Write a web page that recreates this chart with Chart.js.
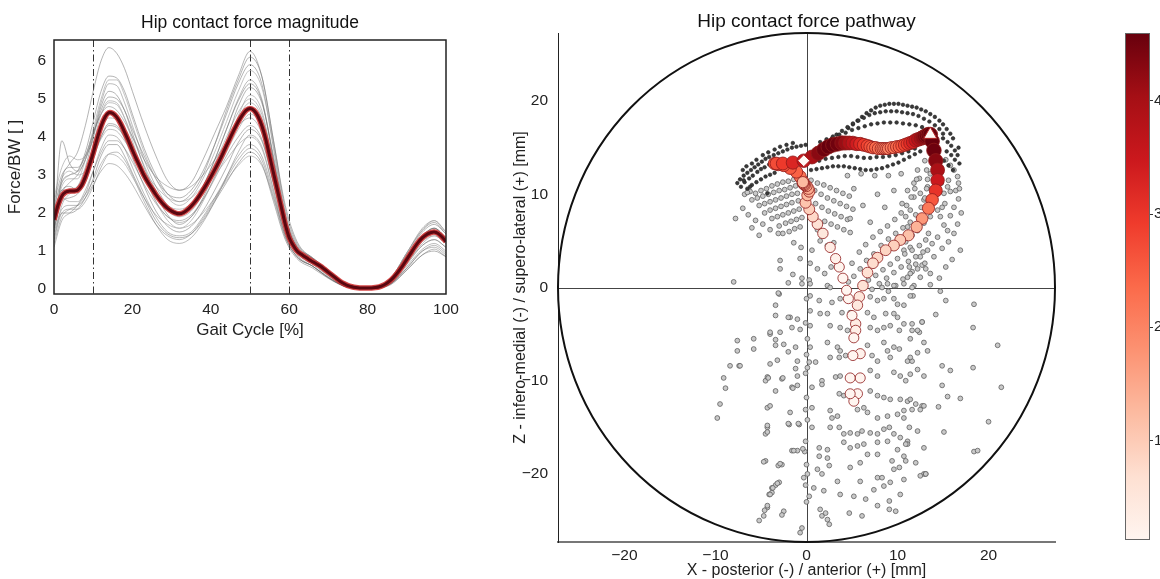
<!DOCTYPE html>
<html lang="en">
<head>
<meta charset="utf-8">
<title>Hip contact force</title>
<script src="https://cdn.jsdelivr.net/npm/chart.js@4.4.1/dist/chart.umd.min.js"></script>
<style>
html, body { margin: 0; padding: 0; background: #fff; overflow: hidden; }
.panel { position: absolute; top: 0; }
</style>
</head>
<body>
<div class="panel" style="left:0;width:470px;height:360px"><canvas id="forceChart"></canvas></div>
<div class="panel" style="left:470px;width:620px;height:579px"><canvas id="pathChart"></canvas></div>
<div class="panel" style="left:1090px;width:90px;height:579px"><canvas id="colorBar"></canvas></div>
<script>
// ---- data ----
const gaitTicks = [0, 20, 40, 60, 80, 100];
const forceTicks = [0, 1, 2, 3, 4, 5, 6];
const mmTicks = [-20, -10, 0, 10, 20];
const barTicks = [1, 2, 3, 4];
const colorRange = [0.12, 4.6];
const gaitEvents = [10, 50, 60];
const headRadius = 27.3;

// mean force/BW at every 1% of the gait cycle
const meanForce = [
  1.82, 2.2, 2.45, 2.55, 2.58, 2.58, 2.6, 2.72, 2.95, 3.25, 3.58,
  3.95, 4.28, 4.52, 4.64, 4.62, 4.52, 4.35, 4.13, 3.9, 3.65,
  3.42, 3.2, 2.98, 2.8, 2.64, 2.48, 2.34, 2.22, 2.12, 2.05,
  2.0, 1.98, 2.01, 2.08, 2.18, 2.3, 2.44, 2.6, 2.77, 2.95,
  3.14, 3.34, 3.55, 3.77, 3.99, 4.2, 4.4, 4.57, 4.7, 4.75,
  4.7, 4.55, 4.3, 3.95, 3.5, 3.05, 2.6, 2.15, 1.7, 1.35,
  1.15, 1.0, 0.92, 0.85, 0.78, 0.72, 0.66, 0.6, 0.52, 0.44,
  0.36, 0.28, 0.2, 0.14, 0.09, 0.06, 0.04, 0.03, 0.03, 0.03,
  0.03, 0.04, 0.06, 0.1, 0.16, 0.24, 0.35, 0.48, 0.62, 0.78,
  0.94, 1.1, 1.24, 1.35, 1.43, 1.48, 1.5, 1.46, 1.37, 1.25
];

// individual trials, sampled at trialPct
const trialPct = [0, 2, 4, 6, 8, 10, 12, 14, 16, 18, 20, 23, 26, 29, 32, 35, 38, 41, 44, 47, 50, 53, 56, 59, 62, 66, 70, 74, 78, 82, 86, 90, 94, 97, 100];
const trialForce = [
  [1.6, 2.9, 3.3, 3.6, 4.3, 5.2, 6.0, 6.35, 6.2, 5.8, 5.2, 4.3, 3.5, 2.85, 2.6, 2.8, 3.4, 4.1, 4.8, 5.6, 6.25, 5.6, 3.9, 2.2, 1.25, 0.8, 0.45, 0.15, 0.03, 0.05, 0.3, 0.9, 1.5, 1.7, 1.45],
  [1.9, 2.7, 2.9, 2.9, 3.4, 4.2, 5.0, 5.5, 5.5, 5.1, 4.5, 3.6, 2.9, 2.4, 2.2, 2.4, 2.9, 3.6, 4.4, 5.2, 5.75, 5.3, 3.8, 2.0, 1.15, 0.8, 0.5, 0.18, 0.04, 0.05, 0.3, 0.95, 1.55, 1.8, 1.5],
  [1.5, 2.5, 2.8, 3.0, 3.4, 4.1, 4.9, 5.4, 5.35, 4.9, 4.3, 3.4, 2.7, 2.2, 2.0, 2.2, 2.7, 3.4, 4.2, 5.0, 5.5, 5.0, 3.4, 1.8, 1.1, 0.75, 0.45, 0.15, 0.02, 0.04, 0.25, 0.85, 1.4, 1.6, 1.35],
  [2.0, 2.6, 2.6, 2.7, 3.2, 4.0, 4.8, 5.2, 5.1, 4.7, 4.1, 3.2, 2.5, 1.95, 1.7, 1.9, 2.4, 3.1, 3.9, 4.8, 5.3, 4.9, 3.5, 1.9, 1.05, 0.7, 0.4, 0.12, 0.02, 0.03, 0.2, 0.75, 1.3, 1.5, 1.25],
  [1.3, 2.2, 2.5, 2.6, 3.0, 3.8, 4.6, 4.95, 4.9, 4.5, 3.9, 3.0, 2.3, 1.8, 1.6, 1.8, 2.3, 2.95, 3.7, 4.55, 5.1, 4.7, 3.2, 1.7, 1.0, 0.68, 0.38, 0.1, 0.02, 0.03, 0.2, 0.7, 1.25, 1.4, 1.2],
  [2.3, 3.0, 3.2, 3.2, 3.5, 4.1, 4.6, 4.8, 4.7, 4.4, 4.0, 3.4, 2.95, 2.7, 2.6, 2.7, 3.0, 3.4, 3.85, 4.3, 4.5, 4.1, 2.9, 1.7, 1.1, 0.8, 0.5, 0.18, 0.04, 0.05, 0.28, 0.85, 1.4, 1.6, 1.35],
  [1.6, 2.3, 2.4, 2.5, 2.8, 3.4, 4.0, 4.35, 4.3, 3.95, 3.45, 2.7, 2.05, 1.65, 1.5, 1.65, 2.05, 2.6, 3.2, 3.85, 4.2, 3.9, 2.8, 1.6, 0.95, 0.65, 0.35, 0.1, 0.02, 0.03, 0.18, 0.65, 1.15, 1.3, 1.1],
  [2.1, 2.9, 3.1, 3.0, 3.1, 3.5, 3.95, 4.2, 4.15, 3.9, 3.6, 3.1, 2.7, 2.4, 2.3, 2.4, 2.7, 3.0, 3.4, 3.8, 4.0, 3.7, 2.6, 1.5, 1.0, 0.75, 0.45, 0.15, 0.03, 0.04, 0.25, 0.8, 1.3, 1.5, 1.3],
  [1.2, 1.9, 2.1, 2.2, 2.5, 3.1, 3.7, 4.05, 4.0, 3.7, 3.2, 2.5, 1.9, 1.5, 1.4, 1.5, 1.9, 2.4, 2.95, 3.5, 3.8, 3.5, 2.5, 1.4, 0.85, 0.6, 0.3, 0.08, 0.01, 0.02, 0.15, 0.55, 1.0, 1.1, 0.9],
  [1.4, 2.0, 2.0, 2.1, 2.4, 2.9, 3.5, 3.8, 3.8, 3.5, 3.05, 2.4, 1.8, 1.45, 1.35, 1.45, 1.8, 2.3, 2.8, 3.3, 3.6, 3.3, 2.3, 1.3, 0.8, 0.55, 0.28, 0.07, 0.01, 0.02, 0.12, 0.5, 0.9, 1.0, 0.85],
  [1.8, 2.4, 2.3, 2.3, 2.5, 2.85, 3.3, 3.55, 3.5, 3.3, 2.95, 2.4, 1.95, 1.7, 1.6, 1.7, 2.0, 2.4, 2.85, 3.25, 3.5, 3.25, 2.4, 1.45, 0.95, 0.7, 0.4, 0.12, 0.02, 0.03, 0.2, 0.7, 1.15, 1.3, 1.1],
  [1.5, 2.1, 2.2, 2.2, 2.4, 2.75, 3.1, 3.3, 3.25, 3.05, 2.75, 2.2, 1.7, 1.4, 1.3, 1.45, 1.85, 2.35, 2.9, 3.4, 3.7, 3.4, 2.4, 1.35, 0.85, 0.6, 0.32, 0.08, 0.01, 0.02, 0.15, 0.6, 1.05, 1.2, 1.0],
  [1.7, 3.9, 3.3, 3.1, 3.4, 4.0, 4.7, 5.05, 5.0, 4.7, 4.2, 3.5, 2.9, 2.5, 2.4, 2.6, 3.1, 3.8, 4.6, 5.4, 5.9, 5.4, 3.7, 1.95, 1.15, 0.82, 0.5, 0.17, 0.03, 0.05, 0.3, 0.95, 1.55, 1.75, 1.45],
  [2.4, 3.2, 3.5, 3.4, 3.5, 3.9, 4.35, 4.6, 4.55, 4.25, 3.8, 3.05, 2.45, 2.05, 1.9, 2.05, 2.5, 3.1, 3.8, 4.5, 4.9, 4.5, 3.1, 1.75, 1.05, 0.72, 0.42, 0.13, 0.02, 0.03, 0.22, 0.75, 1.3, 1.45, 1.2],
  [1.1, 1.8, 2.0, 2.2, 2.6, 3.1, 3.6, 3.9, 3.9, 3.7, 3.35, 2.75, 2.25, 1.9, 1.8, 1.95, 2.35, 2.9, 3.5, 4.0, 4.3, 3.95, 2.75, 1.5, 0.9, 0.6, 0.3, 0.08, 0.01, 0.02, 0.14, 0.5, 0.9, 1.05, 0.85],
  [1.9, 2.6, 2.7, 2.6, 2.9, 3.5, 4.0, 4.3, 4.25, 4.0, 3.6, 3.0, 2.5, 2.15, 2.0, 2.2, 2.7, 3.4, 4.2, 4.95, 5.4, 4.95, 3.4, 1.85, 1.1, 0.75, 0.45, 0.15, 0.03, 0.04, 0.25, 0.85, 1.4, 1.6, 1.35],
  [2.2, 2.8, 3.0, 3.1, 3.5, 4.1, 4.6, 4.9, 4.85, 4.5, 4.0, 3.25, 2.6, 2.2, 2.1, 2.25, 2.7, 3.3, 4.0, 4.65, 5.0, 4.6, 3.3, 1.85, 1.1, 0.75, 0.45, 0.14, 0.03, 0.04, 0.25, 0.85, 1.4, 1.55, 1.3],
  [1.3, 2.0, 2.1, 2.1, 2.3, 2.7, 3.2, 3.55, 3.6, 3.4, 3.0, 2.3, 1.7, 1.3, 1.2, 1.35, 1.75, 2.3, 2.95, 3.6, 4.05, 3.75, 2.6, 1.4, 0.85, 0.6, 0.3, 0.08, 0.01, 0.02, 0.15, 0.55, 1.0, 1.15, 0.95],
  [1.8, 2.8, 3.0, 3.1, 3.6, 4.4, 5.2, 5.6, 5.55, 5.2, 4.6, 3.7, 3.0, 2.5, 2.3, 2.5, 3.0, 3.8, 4.7, 5.5, 6.1, 5.6, 3.9, 2.1, 1.2, 0.82, 0.5, 0.16, 0.03, 0.05, 0.3, 0.95, 1.6, 1.8, 1.5],
  [1.6, 2.4, 2.6, 2.7, 3.0, 3.6, 4.2, 4.5, 4.45, 4.15, 3.7, 2.95, 2.3, 1.9, 1.75, 1.9, 2.35, 2.95, 3.6, 4.2, 4.6, 4.25, 3.0, 1.7, 1.0, 0.7, 0.4, 0.12, 0.02, 0.03, 0.2, 0.7, 1.2, 1.4, 1.2]
];

// mean contact point at every 1% of the gait cycle [mm]
const pathX = [
  -0.4, -0.7, -1.1, -1.8, -2.5, -3.1, -3.5, -3.3, -2.6, -1.5, -0.3,
  0.6, 1.3, 1.9, 2.4, 2.9, 3.4, 3.9, 4.3, 4.7, 5.1,
  5.5, 5.9, 6.3, 6.7, 7.0, 7.3, 7.6, 7.9, 8.2, 8.4,
  8.6, 8.8, 9.0, 9.3, 9.6, 9.9, 10.2, 10.5, 10.8, 11.1,
  11.4, 11.7, 12.0, 12.3, 12.6, 12.8, 13.0, 13.2, 13.4, 13.6,
  13.8, 14.0, 14.2, 14.4, 14.4, 14.2, 13.8, 13.4, 12.7, 12.1,
  11.2, 10.3, 9.6, 8.7, 7.8, 7.3, 6.7, 6.2, 5.8, 5.6,
  5.4, 5.4, 5.9, 5.9, 5.6, 5.2, 4.8, 4.8, 5.1, 5.2,
  5.0, 4.6, 4.4, 4.0, 3.6, 3.2, 2.6, 1.8, 1.2, 0.7,
  0.3, -0.1, 0.1, 0.3, 0.2, 0.0, -0.2, -0.3, -0.4, -0.4
];
const pathZ = [
  11.4, 11.9, 12.4, 12.8, 13.1, 13.2, 13.3, 13.3, 13.3, 13.4, 13.6,
  14.0, 14.4, 14.8, 15.1, 15.3, 15.4, 15.5, 15.5, 15.5, 15.5,
  15.4, 15.4, 15.3, 15.2, 15.1, 15.0, 15.0, 14.9, 14.9, 14.9,
  14.9, 14.9, 14.9, 15.0, 15.0, 15.1, 15.1, 15.2, 15.3, 15.4,
  15.5, 15.6, 15.8, 15.9, 16.0, 16.1, 16.2, 16.3, 16.4, 16.4,
  15.7, 14.7, 13.6, 12.6, 11.5, 10.4, 9.4, 8.5, 7.4, 6.5,
  5.6, 5.1, 4.5, 4.0, 3.2, 2.6, 1.6, 0.2, -1.0, -1.9,
  -3.9, -4.6, -7.1, -9.7, -11.4, -12.2, -11.4, -9.7, -7.3, -5.4,
  -3.0, -1.2, -0.3, 1.0, 2.2, 3.1, 4.3, 5.8, 6.8, 7.6,
  8.4, 9.1, 9.9, 10.3, 10.6, 10.9, 11.0, 11.1, 11.2, 11.3
];
const eventIdx = [10, 50];

// contact points of the single trials, high-load traces
const darkPts = [
  [4.6, 17.1], [5.1, 17.5], [5.6, 17.9], [6.1, 18.3], [6.6, 18.7], [7.1, 19.0], [7.6, 19.3], [8.1, 19.5], [8.6, 19.6], [9.1, 19.7],
  [9.6, 19.7], [10.1, 19.7], [10.6, 19.6], [11.1, 19.5], [11.6, 19.4], [12.1, 19.3], [12.6, 19.1], [13.1, 18.9], [13.6, 18.6], [14.1, 18.3],
  [14.6, 17.9], [15.0, 17.5], [15.4, 17.0], [15.8, 16.5], [16.1, 16.0],
  [2.8, 16.0], [3.3, 16.4], [3.9, 16.8], [4.5, 17.2], [5.1, 17.6], [5.7, 17.9], [6.3, 18.2], [6.9, 18.5], [7.5, 18.7], [8.1, 18.8],
  [8.7, 18.9], [9.3, 18.9], [9.9, 18.9], [10.5, 18.8], [11.1, 18.7], [11.7, 18.6], [12.3, 18.4], [12.9, 18.1], [13.5, 17.8], [14.1, 17.4],
  [14.6, 17.0], [15.0, 16.5],
  [1.5, 15.6], [2.2, 15.9], [2.9, 16.2], [3.6, 16.4], [4.3, 16.6], [5.0, 16.9], [5.7, 17.1], [6.4, 17.3], [7.1, 17.5], [7.8, 17.6],
  [8.5, 17.7], [9.2, 17.7], [9.9, 17.7], [10.6, 17.6], [11.3, 17.5], [12.0, 17.4], [12.7, 17.2], [13.4, 16.9],
  [-7.6, 11.2], [-7.3, 11.6], [-6.9, 12.0], [-6.5, 12.3], [-6.1, 12.6], [-5.7, 12.9], [-5.3, 13.2], [-4.9, 13.5], [-4.5, 13.8], [-4.1, 14.0],
  [-3.6, 14.2], [-3.1, 14.4], [-2.6, 14.6], [-2.1, 14.8], [-1.6, 15.0], [-1.1, 15.1], [-0.6, 15.2], [-0.1, 15.3],
  [-7.2, 10.8], [-6.8, 11.3], [-6.3, 11.7], [-5.9, 12.0], [-5.4, 12.4], [-5.0, 12.7], [-4.6, 12.9], [-4.1, 13.2], [-3.7, 13.5],
  [-6.5, 10.6], [-6.0, 11.0], [-5.5, 11.3], [-5.0, 11.6], [-4.5, 11.9], [-4.0, 12.1], [-3.5, 12.3],
  [-7.0, 12.6], [-6.6, 13.0], [-6.0, 13.3], [-5.5, 13.7], [-4.8, 14.2], [-4.2, 14.5], [-3.5, 14.8], [-2.9, 15.1], [-2.2, 15.3], [-1.5, 15.5],
  [0.5, 12.6], [1.1, 12.7], [1.7, 12.8], [2.3, 12.9], [2.9, 13.0], [3.5, 13.0], [4.1, 13.0], [4.7, 12.9], [5.3, 12.8], [5.9, 12.7],
  [6.5, 12.6], [7.1, 12.6], [7.7, 12.7], [8.3, 12.8], [8.9, 13.0], [9.5, 13.2], [10.1, 13.4], [10.7, 13.7], [11.3, 14.0], [11.9, 14.3], [12.5, 14.6],
  [1.4, 13.6], [2.1, 13.8], [2.8, 13.9], [3.5, 14.0], [4.2, 14.1], [4.9, 14.1], [5.6, 14.0], [6.3, 13.9], [7.0, 13.9], [7.7, 14.0],
  [8.4, 14.0], [9.1, 14.1], [9.8, 14.2], [10.5, 14.4], [11.2, 14.6], [11.9, 14.9],
  [15.0, 16.0], [15.5, 15.6], [15.9, 15.2], [16.3, 14.7], [16.6, 14.2], [15.4, 14.6], [15.9, 14.2], [16.3, 13.7], [15.1, 13.6], [15.6, 13.1],
  [16.1, 12.6], [16.8, 13.3], [16.7, 15.0], [-6.9, 11.5], [-6.2, 10.8], [-4.3, 10.1]
];

// contact points of the single trials, remaining samples
const grayPts = [
  // lobe under the loading response
  [-6.8, 10.0], [-6.2, 10.3], [-5.6, 10.1], [-5.0, 10.4], [-4.4, 10.6], [-3.8, 10.9], [-3.2, 11.1], [-2.6, 11.3], [-2.0, 11.4], [-1.4, 11.6],
  [-6.0, 9.4], [-5.4, 9.6], [-4.8, 9.8], [-4.2, 10.0], [-3.6, 10.2], [-3.0, 10.4], [-2.4, 10.5], [-1.8, 10.7], [-1.2, 10.9], [-0.6, 11.2],
  [-5.2, 8.8], [-4.6, 9.0], [-4.0, 9.2], [-3.4, 9.4], [-2.8, 9.6], [-2.2, 9.8], [-1.6, 10.0], [-1.0, 10.1],
  [-4.6, 8.0], [-4.0, 8.3], [-3.4, 8.5], [-2.8, 8.7], [-2.2, 8.9], [-1.6, 9.1], [-0.9, 9.3],
  [-3.8, 7.4], [-3.2, 7.6], [-2.6, 7.8], [-2.0, 8.0], [-1.4, 8.2], [-0.8, 8.4],
  [-3.0, 6.6], [-2.3, 6.9], [-1.7, 7.1], [-1.1, 7.3], [-0.5, 7.5], [-2.6, 5.8], [-1.9, 6.0], [-1.3, 6.3], [-0.7, 6.5],
  [-7.0, 8.5], [-6.4, 7.8], [-5.6, 7.2], [-4.8, 6.8], [-4.0, 6.2], [-5.2, 5.6], [-6.0, 6.4],
  [-7.8, 7.4], [-6.5, 10.2], [-3.1, 5.8], [-2.9, 2.9], [-2.9, 2.0], [-0.7, 3.1], [-0.6, 4.3], [-1.4, 4.8], [-8.0, 0.6],
  [0.5, 11.5], [1.2, 11.2], [1.9, 11.0], [2.6, 10.7], [3.3, 10.4], [4.0, 10.1], [4.7, 9.8], [0.9, 10.4], [1.6, 10.0], [2.3, 9.6],
  [3.0, 9.3], [3.7, 9.0], [4.4, 8.7], [5.1, 8.4], [1.0, 9.0], [1.7, 8.6], [2.4, 8.2], [3.1, 7.9], [3.8, 7.6], [4.5, 7.3],
  [2.0, 7.1], [2.7, 6.8], [3.4, 6.5], [4.1, 6.2], [4.8, 5.9], [1.2, 6.2], [1.5, 5.0], [2.3, 4.5], [3.0, 4.8], [0.6, 4.0],
  [0.4, 2.6], [1.2, 2.0], [2.0, 1.5], [2.7, 2.2], [-1.5, 1.4], [-0.5, 1.0], [0.3, 0.8], [-2.0, 0.5],
  // inside the loop
  [4.5, 12.0], [6.0, 12.2], [7.5, 12.0], [9.0, 12.0], [10.4, 12.2], [5.2, 10.6], [7.8, 10.0], [9.6, 10.4], [6.2, 8.8], [8.6, 8.6],
  [4.8, 7.4], [7.0, 7.0],
  // unloading branch
  [15.3, 13.7], [15.8, 13.1], [16.2, 12.6], [16.6, 11.9], [16.7, 11.2], [16.4, 10.4], [16.7, 9.5], [16.2, 8.6], [15.8, 7.7], [16.2, 5.8],
  [15.6, 4.9], [14.9, 4.2], [14.0, 3.3], [13.6, 1.5], [12.5, 1.1], [11.8, 0.2], [13.1, 2.0], [14.7, 7.6], [15.1, 6.7], [15.5, 6.1],
  [14.4, 5.4], [13.8, 4.7], [13.3, 4.0], [12.5, 3.3], [12.0, 2.5], [11.3, 2.2], [11.1, 1.1], [11.6, 1.7], [12.7, 2.4], [15.1, 10.1],
  [15.5, 10.8], [15.6, 11.5], [14.9, 8.6], [14.4, 8.3], [13.6, 7.6], [12.9, 6.9], [12.2, 6.1], [11.6, 5.6], [10.9, 4.9], [10.7, 4.0],
  [11.4, 4.3], [12.4, 4.5], [13.1, 5.1], [13.4, 5.8], [12.5, 10.1], [12.9, 9.4], [13.3, 10.8], [13.6, 12.2], [11.8, 9.7], [11.4, 8.3],
  [10.9, 7.6], [11.1, 6.5], [11.8, 11.2], [12.4, 11.7], [11.1, 10.4], [10.5, 9.0],
  [6.8, 0.8], [7.6, 1.3], [8.4, 1.9], [9.2, 2.5], [10.0, 3.1], [10.8, 3.6], [11.6, 4.0], [7.2, -0.2], [8.0, 0.4], [8.8, 1.0],
  [9.6, 1.6], [10.4, 2.2], [11.2, 2.8], [12.0, 3.3], [12.8, 3.8], [9.0, -0.4], [9.8, 0.2], [10.6, 0.9], [11.4, 1.5], [12.2, 2.0],
  [13.0, 2.6], [5.2, 1.2], [5.9, 2.0], [6.6, 2.9], [7.4, 3.6], [8.2, 4.5], [9.0, 5.2], [9.8, 5.8], [10.6, 6.4], [11.4, 7.0],
  [12.0, 7.8], [12.6, 8.6], [13.0, 9.6], [13.2, 10.6], [13.3, 11.6], [13.2, 12.6], [13.0, 13.6], [4.6, 0.6], [5.0, 2.6], [5.8, 3.8],
  [6.5, 4.6], [7.3, 5.4], [8.1, 6.0], [8.9, 6.6], [9.7, 7.3], [10.4, 8.0], [11.0, 8.8], [11.5, 9.7], [11.9, 10.6], [12.1, 11.6],
  [12.2, 12.6], [15.2, 9.0], [14.8, 11.2], [15.8, 10.3], [16.8, 10.6], [17.0, 8.0], [16.6, 6.8], [16.9, 4.0], [16.0, 3.0], [15.3, 2.2],
  [14.6, 1.0], [13.6, 0.3], [14.7, -0.4],
  // swing phase
  [-0.5, 0.4], [0.4, 0.4], [2.3, 0.2], [2.6, 0.0], [8.3, 0.0], [8.9, 0.4], [9.6, 0.2], [10.7, 0.4], [11.6, 0.0], [11.7, -0.9],
  [-3.0, -0.7], [0.4, -0.9], [1.4, -1.4], [2.8, -1.6], [3.7, -1.2], [7.0, -1.0], [7.8, -1.4], [8.5, -1.2], [9.6, -1.2], [10.0, -1.8],
  [10.7, -1.9], [11.4, -0.9], [-3.4, -3.0], [-1.8, -3.2], [-1.0, -3.4], [0.4, -2.5], [1.5, -2.8], [2.3, -2.8], [3.9, -2.7], [4.8, -2.7],
  [6.7, -2.7], [7.4, -3.2], [8.7, -2.8], [9.6, -2.8], [10.0, -3.2], [10.7, -3.9], [11.6, -3.9], [12.7, -3.7],
  [-4.0, -5.0], [-2.9, -4.8], [-1.6, -4.3], [-0.7, -4.5], [0.4, -4.1], [2.6, -4.1], [3.7, -4.3], [4.5, -4.6], [7.0, -4.3], [7.8, -4.6],
  [8.5, -4.3], [9.2, -4.1], [10.2, -4.6], [11.6, -4.6], [12.4, -4.8],
  [-7.6, -6.8], [-5.8, -6.6], [-3.4, -6.2], [-2.5, -6.1], [-1.2, -6.4], [0.4, -6.4], [2.3, -5.9], [3.4, -6.4], [3.7, -6.8], [6.7, -6.2],
  [8.5, -5.9], [8.9, -6.8], [9.6, -6.4], [10.2, -6.6], [11.4, -5.5], [12.2, -7.0], [12.9, -5.9],
  [-7.4, -8.4], [-4.0, -8.2], [-1.0, -7.9], [0.3, -8.0], [1.0, -8.0], [2.6, -7.5], [3.6, -7.5], [4.3, -7.3], [7.2, -7.3], [7.8, -7.9],
  [9.2, -7.5], [11.1, -7.9], [11.6, -7.9],
  [-4.5, -10.0], [-4.3, -9.6], [-2.7, -9.8], [-1.0, -9.5], [0.1, -8.6], [1.7, -10.0], [3.2, -9.6], [3.7, -9.5], [7.0, -8.9], [7.8, -9.5],
  [9.6, -9.1], [10.3, -9.5], [11.4, -9.3], [12.2, -8.8], [12.9, -9.5],
  [-3.4, -11.1], [-1.6, -10.7], [-1.0, -10.5], [0.6, -10.7], [1.7, -10.4], [3.6, -11.4], [4.1, -11.6], [7.0, -11.1], [7.8, -11.6], [8.5, -11.8],
  [9.2, -12.0], [10.3, -12.0], [11.1, -12.2], [12.0, -12.5], [12.7, -12.7],
  [-4.3, -12.9], [-4.0, -12.7], [-1.8, -13.4], [-0.1, -13.1], [0.6, -12.9], [2.6, -13.2], [2.8, -14.0], [3.4, -13.8], [5.6, -13.1], [6.3, -12.9],
  [6.7, -13.4], [7.8, -14.0], [8.9, -13.8], [10.0, -13.6], [10.7, -14.0], [11.6, -13.1], [12.5, -13.1],
  [-4.3, -15.0], [-4.5, -15.7], [-1.9, -14.7], [-0.8, -14.7], [0.6, -15.0], [2.6, -15.0], [3.6, -15.0], [4.1, -15.7], [4.8, -15.6], [5.6, -15.7],
  [6.1, -15.4], [7.0, -15.6], [7.8, -15.7], [8.5, -15.2], [9.1, -15.0], [9.6, -15.7], [10.3, -16.1], [11.1, -16.5], [12.2, -15.4],
  [-1.6, -17.5], [-1.0, -17.5], [1.4, -17.2], [2.3, -17.4], [4.1, -16.6], [4.8, -17.2], [5.6, -17.0], [6.3, -16.8], [7.8, -16.6], [8.9, -16.5],
  [10.0, -17.4], [11.1, -16.8], [12.9, -17.2],
  [-4.5, -18.6], [-2.7, -19.0], [1.4, -18.1], [2.3, -18.3], [2.5, -19.1], [4.8, -19.3], [5.9, -18.8], [6.7, -17.9], [7.8, -17.9], [9.4, -18.6],
  [10.2, -19.3], [10.7, -18.1], [12.0, -18.8], [12.9, -20.0], [0.1, -20.0], [1.2, -19.5], [1.7, -20.0], [9.6, -19.5], [7.8, -20.4],
  [-4.3, -23.6], [-4.7, -24.5], [-2.5, -24.0], [-3.0, -20.9], [-3.8, -21.5], [-3.8, -22.0], [-0.5, -25.8], [-0.3, -20.4], [0.8, -21.5], [0.3, -22.4],
  [1.5, -23.8], [1.7, -24.5], [2.3, -24.9], [2.5, -25.4], [2.1, -24.2], [1.9, -21.8], [3.4, -20.8], [3.7, -22.2], [4.7, -24.2], [5.2, -22.4],
  [5.9, -20.8], [6.1, -24.5], [6.5, -22.7], [7.4, -21.7], [7.8, -23.4], [8.3, -20.4], [8.5, -21.3], [9.1, -22.9], [9.1, -23.8], [9.8, -24.0],
  [9.2, -20.9], [10.3, -22.2], [10.7, -20.6], [13.1, -20.0],
  [-4.7, -18.7], [-3.1, -19.1], [-3.4, -21.2], [-4.1, -22.2], [-4.6, -23.9], [-5.2, -25.0], [-2.7, -24.4], [-0.7, -26.3], [18.4, -17.6], [12.5, -20.2],
  [0.0, -1.2], [-0.1, -3.8], [0.1, -5.5], [0.0, -7.2], [-0.1, -9.2], [0.0, -11.8], [0.1, -14.2], [-0.1, -16.5], [0.0, -19.0], [-0.1, -21.2],
  [0.0, -23.0], [-0.2, -17.6], [-0.4, -17.3],
  [-3.1, -0.6], [-3.4, -1.9], [-2.0, -3.2], [-4.0, -4.8], [-3.4, -5.6], [-5.8, -5.5], [-7.6, -5.7], [-8.4, -8.4], [-7.3, -8.4], [-9.1, -9.7],
  [-8.9, -10.8], [-9.5, -12.5], [-9.8, -14.0], [-4.2, -9.7], [-3.2, -7.8], [-2.6, -9.7], [-1.5, -10.8], [-1.2, -8.7], [-2.0, -6.9], [-0.9, -14.6],
  [-2.0, -14.6], [-4.3, -14.8], [-4.3, -15.5], [-1.4, -17.5], [-2.9, -18.9], [-3.2, -21.0], [-3.7, -21.5], [-4.0, -22.2], [-4.3, -23.4],
  [18.4, -1.8], [15.3, -1.4], [14.2, -2.9], [18.3, -4.3], [21.0, -6.2], [12.7, -3.7], [12.2, -4.6], [13.3, -6.8], [14.9, -8.4], [15.8, -8.9],
  [18.3, -8.6], [14.9, -10.5], [21.4, -10.7], [15.5, -11.7], [16.9, -11.9], [14.5, -12.8], [12.9, -12.7], [20.0, -14.4], [15.1, -15.5], [18.8, -17.5],
  [13.1, -20.0], [11.4, -7.5], [10.9, -10.0], [11.4, -12.0], [10.7, -13.2], [11.3, -15.0], [10.9, -16.8], [10.9, -18.6]
];

// ---- colour map (Reds) ----
const redsStops = ['#fff5f0', '#fee0d2', '#fcbba1', '#fc9272', '#fb6a4a', '#ef3b2c', '#cb181d', '#a50f15', '#67000d'];
const [cbMin, cbMax] = colorRange;

function hexRgb(h) {
  return [1, 3, 5].map(i => parseInt(h.slice(i, i + 2), 16));
}
function reds(t) {
  t = Math.max(0, Math.min(1, t));
  const pos = t * (redsStops.length - 1);
  const k = Math.min(Math.floor(pos), redsStops.length - 2);
  const f = pos - k;
  const a = hexRgb(redsStops[k]), b = hexRgb(redsStops[k + 1]);
  const c = a.map((v, i) => Math.round(v + (b[i] - v) * f));
  return `rgb(${c[0]},${c[1]},${c[2]})`;
}

Chart.defaults.font.family = '"Liberation Sans", Arial, Helvetica, sans-serif';
Chart.defaults.color = '#1a1a1a';
Chart.defaults.animation = false;
Chart.defaults.events = [];
Chart.defaults.plugins.legend.display = false;
Chart.defaults.plugins.tooltip.enabled = false;

const fixTicks = list => scale => { scale.ticks = list.map(v => ({value: v})); };
const minus = v => (v < 0 ? '\u2212' + Math.abs(v) : String(v));

// ---- force magnitude ----
const eventLines = {
  id: 'eventLines',
  beforeDatasetsDraw(chart) {
    const {ctx, chartArea: a, scales: {x}} = chart;
    ctx.save();
    ctx.strokeStyle = '#333';
    ctx.lineWidth = 1;
    ctx.setLineDash([7, 3, 1.5, 3]);
    gaitEvents.forEach(g => {
      const px = Math.round(x.getPixelForValue(g)) + 0.5;
      ctx.beginPath();
      ctx.moveTo(px, a.top);
      ctx.lineTo(px, a.bottom);
      ctx.stroke();
    });
    ctx.restore();
  },
  afterDraw(chart) {
    const {ctx, chartArea: a} = chart;
    ctx.save();
    ctx.strokeStyle = '#222';
    ctx.lineWidth = 1.5;
    ctx.strokeRect(a.left, a.top, a.width, a.height);
    ctx.restore();
  }
};

const trialShades = ['rgba(115,115,115,0.6)', 'rgba(165,165,165,0.75)', 'rgba(90,90,90,0.45)'];
const meanPts = meanForce.map((f, i) => ({x: i, y: f}));
const trialSets = trialForce.map((vals, k) => ({
  data: trialPct.map((g, j) => ({x: g, y: vals[j]})),
  borderColor: trialShades[k % 3],
  borderWidth: 0.9,
  pointRadius: 0,
  cubicInterpolationMode: 'monotone',
  order: 3
}));

new Chart(document.getElementById('forceChart'), {
  type: 'line',
  data: {
    datasets: [
      {data: meanPts, borderColor: '#5a0710', borderWidth: 3, pointRadius: 0, tension: 0.3, order: 1},
      {data: meanPts, borderColor: 'rgba(205,40,40,0.85)', borderWidth: 5.5, pointRadius: 0, tension: 0.3, order: 2},
      ...trialSets
    ]
  },
  options: {
    responsive: true,
    maintainAspectRatio: false,
    layout: {padding: {left: 0, right: 24, top: 0, bottom: 0}},
    plugins: {
      title: {
        display: true, text: 'Hip contact force magnitude', fullSize: false,
        font: {size: 17.5, weight: 'normal'}, color: '#111', padding: {top: 13, bottom: 6}
      }
    },
    scales: {
      x: {
        type: 'linear', min: 0, max: 100,
        afterFit: s => { s.height = 66; },
        afterBuildTicks: fixTicks(gaitTicks),
        grid: {display: false, drawTicks: false},
        border: {display: false},
        ticks: {padding: 6.5, font: {size: 15.5}, color: '#222'},
        title: {display: true, text: 'Gait Cycle [%]', font: {size: 17}, color: '#222', padding: {top: 0, bottom: 19.8}}
      },
      y: {
        min: -0.13, max: 6.55,
        afterFit: s => { s.width = 54; },
        afterBuildTicks: fixTicks(forceTicks),
        grid: {display: false, drawTicks: false},
        border: {display: false},
        ticks: {padding: 8, font: {size: 15.5}, color: '#222'},
        title: {display: true, text: 'Force/BW [ ]', font: {size: 17}, color: '#222', padding: {top: 4.8, bottom: 0}}
      }
    }
  },
  plugins: [eventLines]
});

// ---- force pathway ----
const headOutline = {
  id: 'headOutline',
  beforeDatasetsDraw(chart) {
    const {ctx, chartArea: a, scales: {x, y}} = chart;
    const cx = x.getPixelForValue(0), cy = y.getPixelForValue(0);
    ctx.save();
    ctx.strokeStyle = '#444';
    ctx.lineWidth = 1;
    ctx.beginPath();
    ctx.moveTo(Math.round(cx) + 0.5, a.top);
    ctx.lineTo(Math.round(cx) + 0.5, a.bottom);
    ctx.moveTo(a.left, Math.round(cy) + 0.5);
    ctx.lineTo(a.right, Math.round(cy) + 0.5);
    ctx.stroke();
    ctx.strokeStyle = '#111';
    ctx.lineWidth = 2;
    ctx.beginPath();
    ctx.ellipse(cx, cy, x.getPixelForValue(headRadius) - cx, cy - y.getPixelForValue(headRadius), 0, 0, Math.PI * 2);
    ctx.stroke();
    ctx.restore();
  }
};

const pathPts = pathX.map((x, i) => ({x, y: pathZ[i]}));
const toXY = p => ({x: p[0], y: p[1]});

new Chart(document.getElementById('pathChart'), {
  type: 'scatter',
  data: {
    datasets: [
      {
        data: eventIdx.map(i => pathPts[i]),
        pointStyle: ['rectRot', 'triangle'], pointRadius: [6, 7.5],
        pointBackgroundColor: '#fff8f4', pointBorderColor: '#b02020', pointBorderWidth: 1, order: 0
      },
      {
        data: pathPts,
        pointRadius: meanForce.map(f => 5 + 0.5 * f),
        pointBackgroundColor: meanForce.map(f => reds((f - cbMin) / (cbMax - cbMin))),
        pointBorderColor: '#8e1b1b', pointBorderWidth: 0.8, order: 1
      },
      {
        data: darkPts.map(toXY),
        pointRadius: 1.8, pointBackgroundColor: '#3a3a3a', pointBorderColor: '#1e1e1e', pointBorderWidth: 0.6, order: 2
      },
      {
        data: grayPts.map(toXY),
        pointRadius: 2.4, pointBackgroundColor: '#c9c9c9', pointBorderColor: '#5e5e5e', pointBorderWidth: 0.8, order: 3
      }
    ]
  },
  options: {
    responsive: true,
    maintainAspectRatio: false,
    layout: {padding: {left: 0, right: 35, top: 0, bottom: 0}},
    plugins: {
      title: {
        display: true, text: 'Hip contact force pathway', fullSize: false,
        font: {size: 19, weight: 'normal'}, color: '#111', padding: {top: 10.2, bottom: 0}
      }
    },
    scales: {
      x: {
        min: -headRadius, max: headRadius,
        afterFit: s => { s.height = 37; },
        afterBuildTicks: fixTicks(mmTicks),
        grid: {display: false, drawTicks: false},
        border: {display: true, color: '#777', width: 2},
        ticks: {padding: 4.5, font: {size: 15.5}, color: '#222', callback: minus},
        title: {display: true, text: 'X - posterior (-) / anterior (+) [mm]', font: {size: 16, lineHeight: 1}, color: '#222', padding: {top: 0, bottom: 0}}
      },
      y: {
        min: -headRadius, max: headRadius,
        afterFit: s => { s.width = 88; },
        afterBuildTicks: fixTicks(mmTicks),
        grid: {display: false, drawTicks: false},
        border: {display: true, color: '#222', width: 1},
        ticks: {padding: 10, font: {size: 15.5}, color: '#222', callback: minus},
        title: {display: true, text: 'Z - infero-medial (-) / supero-lateral (+) [mm]', font: {size: 16}, color: '#222', padding: {top: 41.4, bottom: 0}}
      }
    }
  },
  plugins: [headOutline]
});

// ---- colour bar ----
const barFrame = {
  id: 'barFrame',
  afterDatasetsDraw(chart) {
    const {ctx, chartArea: a} = chart;
    ctx.save();
    ctx.strokeStyle = '#666';
    ctx.lineWidth = 1;
    ctx.strokeRect(a.left + 0.5, a.top + 0.5, a.width - 1, a.height - 1);
    ctx.restore();
  }
};

new Chart(document.getElementById('colorBar'), {
  type: 'bar',
  data: {
    labels: [''],
    datasets: [{
      data: [[cbMin, cbMax]],
      barPercentage: 1, categoryPercentage: 1, borderWidth: 0,
      backgroundColor: c => {
        const a = c.chart.chartArea;
        if (!a) return redsStops[4];
        const g = c.chart.ctx.createLinearGradient(0, a.bottom, 0, a.top);
        redsStops.forEach((s, k) => g.addColorStop(k / (redsStops.length - 1), s));
        return g;
      }
    }]
  },
  options: {
    responsive: true,
    maintainAspectRatio: false,
    layout: {padding: {left: 35, right: 0, top: 33, bottom: 39}},
    scales: {
      x: {display: false},
      y: {
        position: 'right', min: cbMin, max: cbMax,
        afterFit: s => { s.width = 30; },
        afterBuildTicks: fixTicks(barTicks),
        grid: {display: true, drawOnChartArea: false, drawTicks: true, tickLength: 3, color: '#333'},
        border: {display: false},
        ticks: {padding: 1, font: {size: 15}, color: '#222'}
      }
    }
  },
  plugins: [barFrame]
});
</script>
</body>
</html>
